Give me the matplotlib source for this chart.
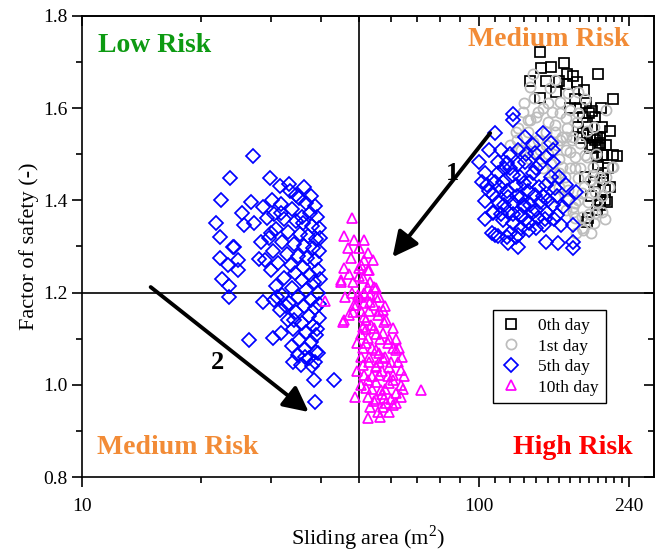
import matplotlib
matplotlib.use('Agg')
import matplotlib.pyplot as plt
from matplotlib.ticker import FixedLocator, NullFormatter, MultipleLocator, FormatStrFormatter

plt.rcParams['font.family'] = ['Liberation Serif', 'DejaVu Serif']
plt.rcParams['mathtext.fontset'] = 'custom'
plt.rcParams['mathtext.rm'] = 'Liberation Serif'

# ---------------- data ----------------
day0_x = [142.6, 144.1, 163.8, 166.7, 173.4, 200.5, 135.2, 147.6, 167.6, 177.6, 157.2, 218.9, 143.3,
          187.1, 180.6, 193.7, 183.8, 197.1, 188.2, 180.6, 194.8, 202.8, 200.5, 191.5, 188.2, 197.1,
          202.8, 206.4, 224.0, 199.4, 206.4, 208.8, 208.8, 202.8, 188.2, 183.8, 199.4, 202.8, 193.7,
          218.9, 205.2, 200.5, 206.4, 211.2, 202.8, 189.3, 199.4, 175.5, 185.0, 190.0, 178.0, 170.0,
          160.0, 152.0, 205.0, 212.0, 214.0, 196.0, 210.0, 215.0, 204.0, 186.0, 192.0]
day0_y = [1.722, 1.687, 1.698, 1.674, 1.670, 1.674, 1.659, 1.659, 1.653, 1.657, 1.635, 1.620, 1.622,
          1.611, 1.600, 1.594, 1.581, 1.581, 1.568, 1.536, 1.538, 1.536, 1.520, 1.514, 1.542, 1.531,
          1.525, 1.498, 1.496, 1.494, 1.459, 1.423, 1.401, 1.390, 1.353, 1.546, 1.538, 1.520, 1.520,
          1.498, 1.498, 1.477, 1.444, 1.397, 1.397, 1.362, 1.379, 1.620, 1.640, 1.590, 1.560, 1.600,
          1.660, 1.690, 1.560, 1.470, 1.430, 1.440, 1.520, 1.550, 1.600, 1.450, 1.410]

day1_x = [136.8, 156.3, 178.6, 210.0, 135.2, 151.8, 168.6, 137.6, 149.3, 160.9, 170.5, 130.0, 129.5,
          141.6, 153.6, 165.7, 177.6, 135.2, 126.0, 156.3, 133.6, 147.6, 167.6, 173.4, 125.0, 160.9,
          141.6, 218.9, 183.8, 173.4, 197.1, 194.8, 188.2, 180.6, 170.5, 165.7, 156.3, 124.0, 133.0,
          160.9, 145.0, 136.8, 162.5, 172.5, 165.7, 175.5, 186.0, 162.5, 175.5, 194.8, 178.6, 191.5,
          202.8, 217.6, 168.6, 182.7, 189.3, 199.4, 175.5, 173.4, 182.7, 197.1, 205.2, 175.5, 165.7,
          156.3, 150.0, 158.0, 150.0, 145.0, 155.0, 165.0, 160.0, 170.0, 180.0, 185.0, 168.0, 190.0,
          195.0, 160.0, 150.0, 140.0, 148.0, 178.0, 200.0, 205.0, 210.0, 188.0, 195.0, 198.0, 213.0,
          178.0, 186.0, 140.0, 128.0, 120.0, 182.0, 176.0, 192.0, 208.0, 135.0, 143.0, 152.0, 160.0]
day1_y = [1.674, 1.661, 1.635, 1.596, 1.646, 1.644, 1.633, 1.622, 1.611, 1.613, 1.596, 1.611, 1.592,
          1.592, 1.592, 1.579, 1.570, 1.574, 1.557, 1.564, 1.548, 1.548, 1.557, 1.538, 1.531, 1.531,
          1.531, 1.472, 1.336, 1.386, 1.418, 1.455, 1.494, 1.525, 1.505, 1.538, 1.548, 1.548, 1.574,
          1.590, 1.600, 1.527, 1.538, 1.531, 1.509, 1.494, 1.498, 1.472, 1.470, 1.472, 1.449, 1.444,
          1.451, 1.472, 1.423, 1.416, 1.397, 1.397, 1.394, 1.375, 1.364, 1.373, 1.375, 1.362, 1.379,
          1.407, 1.570, 1.520, 1.500, 1.470, 1.460, 1.450, 1.490, 1.470, 1.470, 1.430, 1.400, 1.370,
          1.350, 1.430, 1.440, 1.500, 1.520, 1.400, 1.430, 1.410, 1.450, 1.550, 1.560, 1.500, 1.430,
          1.590, 1.620, 1.580, 1.510, 1.520, 1.340, 1.330, 1.330, 1.360, 1.490, 1.510, 1.480, 1.460]

day5_x = [122.0, 122.5, 110.0, 131.0, 145.0, 152.0, 106.0, 126.0, 139.0, 154.5, 100.0, 112.0, 118.0,
          131.0, 148.0, 154.5, 104.0, 112.0, 122.0, 137.0, 105.0, 113.5, 124.0, 130.0, 148.0, 156.0,
          166.0, 176.0, 109.0, 119.0, 128.0, 139.0, 104.0, 112.0, 122.5, 130.0, 143.0, 154.0, 163.0,
          109.0, 119.0, 128.0, 137.0, 149.0, 158.0, 115.0, 122.5, 131.0, 141.0, 146.0, 161.0, 173.0,
          112.0, 118.0, 126.0, 134.0, 119.0, 126.0, 148.0, 159.0, 173.0, 173.0, 108.5, 110.0,
          115.0, 120.0, 127.0, 135.0, 140.0, 118.0, 125.0, 133.0, 142.0, 110.0, 116.0, 122.0, 135.0,
          140.0, 128.0, 134.0, 140.0, 114.0, 106.0, 145.0, 150.0, 152.0, 158.0, 126.0, 132.0, 120.0,
          114.0, 143.0, 137.0, 120.0, 108.0, 104.0, 102.0, 124.0, 155.0, 147.0, 168.0, 160.0, 116.0,
          130.0,
          # left group
          27.0, 23.6, 29.8, 31.6, 33.2, 34.6, 22.4, 26.7, 28.6, 25.3, 21.8, 25.6, 27.1, 30.5, 31.7,
          22.3, 24.0, 24.2, 28.2, 22.3, 24.7, 27.9, 23.3, 24.8, 22.6, 23.5, 23.5, 28.6, 30.5, 26.4,
          30.3, 31.7, 34.0, 36.5, 38.8, 35.6, 38.4, 43.1, 38.8,
          33.5, 35.2, 36.8, 38.6, 30.2, 31.8, 33.9, 37.5, 39.2, 29.3, 32.4, 34.7, 36.1, 38.0, 39.6,
          30.8, 33.1, 35.5, 37.2, 38.9, 29.6, 31.9, 34.2, 36.4, 38.3, 39.7, 30.4, 32.8, 35.0, 37.0,
          38.8, 31.2, 33.6, 36.0, 39.3, 29.9, 34.5, 37.6, 32.3, 35.8, 38.5, 30.9, 33.9, 36.7, 39.4,
          32.0, 35.1, 37.9, 33.3, 36.2, 38.7, 31.5, 34.6, 37.3, 39.5, 33.0, 35.9, 38.2, 34.1, 36.8,
          39.0, 35.3, 37.7, 33.8, 36.5, 38.9, 35.0, 37.4, 39.3, 34.3, 32.6, 31.0, 29.0, 30.0, 35.8,
          37.9, 36.3, 39.8, 39.9, 39.6, 39.2, 38.1]
day5_y = [1.587, 1.574, 1.546, 1.538, 1.546, 1.525, 1.509, 1.509, 1.503, 1.509, 1.483, 1.483, 1.481,
          1.483, 1.494, 1.483, 1.459, 1.459, 1.455, 1.459, 1.433, 1.429, 1.433, 1.438, 1.433, 1.427,
          1.433, 1.418, 1.412, 1.407, 1.407, 1.412, 1.399, 1.397, 1.394, 1.386, 1.397, 1.390, 1.386,
          1.375, 1.375, 1.368, 1.375, 1.373, 1.368, 1.357, 1.351, 1.357, 1.362, 1.347, 1.347, 1.347,
          1.323, 1.321, 1.325, 1.336, 1.308, 1.299, 1.310, 1.308, 1.310, 1.297, 1.373, 1.325,
          1.440, 1.470, 1.450, 1.440, 1.470, 1.420, 1.410, 1.420, 1.430, 1.440, 1.390, 1.370, 1.390,
          1.380, 1.340, 1.350, 1.340, 1.370, 1.420, 1.410, 1.400, 1.450, 1.410, 1.480, 1.500, 1.500,
          1.510, 1.480, 1.520, 1.330, 1.330, 1.360, 1.440, 1.320, 1.360, 1.360, 1.400, 1.450, 1.470,
          1.390,
          # left group
          1.496, 1.449, 1.449, 1.431, 1.436, 1.412, 1.401, 1.397, 1.386, 1.373, 1.351, 1.347, 1.351,
          1.370, 1.373, 1.321, 1.299, 1.299, 1.310, 1.275, 1.271, 1.273, 1.260, 1.249, 1.230, 1.214,
          1.190, 1.180, 1.184, 1.097, 1.102, 1.112, 1.049, 1.060, 1.049, 1.043, 1.010, 1.010, 0.963,
          1.420, 1.405, 1.395, 1.388, 1.400, 1.392, 1.382, 1.372, 1.365, 1.362, 1.360, 1.355, 1.350,
          1.345, 1.340, 1.338, 1.332, 1.328, 1.322, 1.316, 1.318, 1.310, 1.305, 1.300, 1.296, 1.290,
          1.290, 1.284, 1.280, 1.276, 1.270, 1.265, 1.260, 1.255, 1.250, 1.248, 1.242, 1.238, 1.232,
          1.228, 1.222, 1.215, 1.210, 1.205, 1.200, 1.195, 1.190, 1.185, 1.178, 1.172, 1.166, 1.162,
          1.158, 1.150, 1.145, 1.140, 1.135, 1.128, 1.120, 1.115, 1.108, 1.098, 1.092, 1.085, 1.078,
          1.072, 1.065, 1.058, 1.068, 1.140, 1.170, 1.190, 1.270, 1.330, 1.365, 1.410, 1.430, 1.318,
          1.230, 1.175, 1.120, 1.040]

day10_x = [47.9, 45.7, 48.5, 51.3, 46.8, 49.9, 52.5, 47.6, 51.3, 54.1, 45.7, 49.9, 52.5, 44.9, 48.2,
           51.0, 53.4, 52.5, 54.4, 49.6, 53.4, 56.0, 49.0, 51.3, 54.4, 57.3, 48.2, 48.5, 53.4, 47.1,
           45.4, 51.3, 55.7, 57.6, 51.0, 54.4, 60.7, 57.3, 52.5, 59.0, 51.0, 55.0, 61.8, 52.8, 57.3,
           62.5, 51.0, 55.0, 59.3, 63.6, 51.3, 56.0, 60.7, 55.0, 59.3, 63.6, 51.9, 56.6, 61.8, 48.7,
           52.5, 57.6, 63.6, 71.5, 53.4, 57.3, 60.7, 55.7, 52.5, 40.9, 45.7, 44.9,
           50.5, 52.0, 53.5, 55.0, 56.5, 50.5, 52.0, 54.0, 56.0, 58.0, 60.0, 50.5, 53.0, 55.0, 57.0,
           59.0, 61.0, 52.5, 54.0, 58.0, 60.0, 62.0, 50.5, 55.0, 58.5, 56.0, 54.0, 52.0, 50.3, 51.5,
           55.0, 53.0, 56.0, 58.5, 59.5, 61.0, 64.0, 65.0, 64.5, 49.5, 49.5, 50.0, 47.0, 50.5, 53.0,
           55.0, 48.0, 46.0, 58.0, 62.0, 63.0, 57.0, 54.5, 59.5, 56.5]
day10_y = [1.362, 1.323, 1.314, 1.314, 1.297, 1.297, 1.286, 1.275, 1.271, 1.271, 1.253, 1.253, 1.249,
           1.227, 1.223, 1.232, 1.223, 1.210, 1.212, 1.195, 1.195, 1.190, 1.173, 1.177, 1.173, 1.162,
           1.158, 1.173, 1.180, 1.151, 1.136, 1.147, 1.151, 1.136, 1.125, 1.123, 1.123, 1.112, 1.102,
           1.091, 1.080, 1.075, 1.075, 1.060, 1.058, 1.049, 1.043, 1.039, 1.039, 1.032, 1.021, 1.021,
           1.021, 1.006, 1.004, 0.999, 0.993, 0.989, 0.982, 0.974, 0.974, 0.971, 0.974, 0.989, 0.952,
           0.952, 0.956, 0.941, 0.928, 1.182, 1.141, 1.223,
           1.160, 1.140, 1.130, 1.110, 1.100, 1.110, 1.090, 1.080, 1.070, 1.060, 1.050, 1.060, 1.050,
           1.040, 1.030, 1.020, 1.010, 1.010, 0.990, 0.990, 0.970, 0.960, 1.000, 0.970, 0.960, 1.050,
           1.020, 1.120, 1.190, 1.200, 1.190, 1.160, 1.160, 1.140, 1.100, 1.080, 1.060, 1.020, 0.990,
           1.090, 1.030, 1.235, 1.240, 1.260, 1.250, 1.210, 1.200, 1.190, 1.170, 1.100, 1.080, 0.980,
           0.965, 0.940, 0.930]

series_labels = ['0th day', '1st day', '5th day', '10th day']
x_ticks = [10, 100, 240]
x_minor = [20, 30, 40, 50, 60, 70, 80, 90, 110, 120, 130, 140, 150, 160, 170, 180, 190, 200, 210, 220, 230]
threshold_area = 50
threshold_fs = 1.2

# ---------------- figure ----------------
fig = plt.figure(figsize=(6.57, 5.53), dpi=100)
ax = fig.add_axes([82 / 657, 1 - 477 / 553, 572 / 657, 461 / 553])
ax.set_xscale('log')
ax.set_xlim(10, 277)
ax.set_ylim(0.8, 1.8)

ms = 7.0
mew = 1.25
ax.plot(day0_x, day0_y, ls='none', marker='s', ms=ms - 0.3, mfc='none', mec='black', mew=mew, label=series_labels[0])
ax.plot(day1_x, day1_y, ls='none', marker='o', ms=ms + 0.3, mfc='none', mec='#bdbdbd', mew=mew, label=series_labels[1])
ax.plot(day5_x, day5_y, ls='none', marker='D', ms=ms, mfc='none', mec='#0000ff', mew=mew, label=series_labels[2])
ax.plot(day10_x, day10_y, ls='none', marker='^', ms=ms + 0.8, mfc='none', mec='#ff00ff', mew=mew, label=series_labels[3])

ax.axvline(threshold_area, color='black', lw=1.2, zorder=1)
ax.axhline(threshold_fs, color='black', lw=1.2, zorder=1)

# ticks
ax.xaxis.set_major_locator(FixedLocator(x_ticks))
ax.xaxis.set_major_formatter(FormatStrFormatter('%d'))
ax.xaxis.set_minor_locator(FixedLocator(x_minor))
ax.xaxis.set_minor_formatter(NullFormatter())
ax.yaxis.set_major_locator(MultipleLocator(0.2))
ax.yaxis.set_minor_locator(MultipleLocator(0.1))
ax.yaxis.set_major_formatter(FormatStrFormatter('%.1f'))
ax.tick_params(which='major', direction='out', length=7, width=1.2, labelsize=14)
ax.tick_params(which='minor', direction='out', length=4, width=1.2)
ax.tick_params(axis='x', pad=8)
for sp in ax.spines.values():
    sp.set_linewidth(1.2)

secx = ax.secondary_xaxis('top')
secx.xaxis.set_major_locator(FixedLocator(x_ticks))
secx.xaxis.set_minor_locator(FixedLocator(x_minor))
secx.xaxis.set_major_formatter(NullFormatter())
secx.xaxis.set_minor_formatter(NullFormatter())
secx.tick_params(which='major', direction='in', length=7, width=1.2, labeltop=False)
secx.tick_params(which='minor', direction='in', length=4, width=1.2, labeltop=False)
secy = ax.secondary_yaxis('right')
secy.yaxis.set_major_locator(MultipleLocator(0.2))
secy.yaxis.set_minor_locator(MultipleLocator(0.1))
secy.yaxis.set_major_formatter(NullFormatter())
secy.yaxis.set_minor_formatter(NullFormatter())
secy.tick_params(which='major', direction='in', length=7, width=1.2, labelright=False)
secy.tick_params(which='minor', direction='in', length=4, width=1.2, labelright=False)
secy.spines['right'].set_linewidth(1.2)
secx.spines['top'].set_linewidth(1.2)

ax.set_xlabel('Sliding area (m$^{2}$)', fontsize=16, labelpad=6)
ax.set_ylabel('Factor of safety (-)', fontsize=16, labelpad=3)

# risk labels
ax.text(0.028, 0.937, 'Low Risk', transform=ax.transAxes, color='#0d9a12', fontsize=20,
        fontweight='bold', ha='left', va='center')
ax.text(0.958, 0.948, 'Medium Risk', transform=ax.transAxes, color='#f28b36', fontsize=20,
        fontweight='bold', ha='right', va='center')
ax.text(0.026, 0.065, 'Medium Risk', transform=ax.transAxes, color='#f28b36', fontsize=20,
        fontweight='bold', ha='left', va='center')
ax.text(0.962, 0.065, 'High Risk', transform=ax.transAxes, color='#ff0000', fontsize=20,
        fontweight='bold', ha='right', va='center')

# arrows
ap = dict(arrowstyle='-|>', lw=2.8, color='black', mutation_scale=38, shrinkA=0, shrinkB=0)
ax.annotate('', xy=(60.7, 1.277), xytext=(107, 1.546), arrowprops=ap)
ax.annotate('', xy=(37.3, 0.941), xytext=(14.9, 1.212), arrowprops=ap)
ax.text(86, 1.459, '1', fontsize=19, fontweight='bold', ha='center', va='center')
ax.text(22.0, 1.049, '2', fontsize=19, fontweight='bold', ha='center', va='center')

leg = ax.legend(loc='upper left', bbox_to_anchor=(0.719, 0.362), fontsize=12.5, frameon=True,
                fancybox=False, edgecolor='black', framealpha=1, handlelength=1.2,
                handletextpad=0.9, labelspacing=0.25, borderpad=0.45, borderaxespad=0)
leg.get_frame().set_linewidth(1.0)

fig.savefig('out.png', dpi=100)
